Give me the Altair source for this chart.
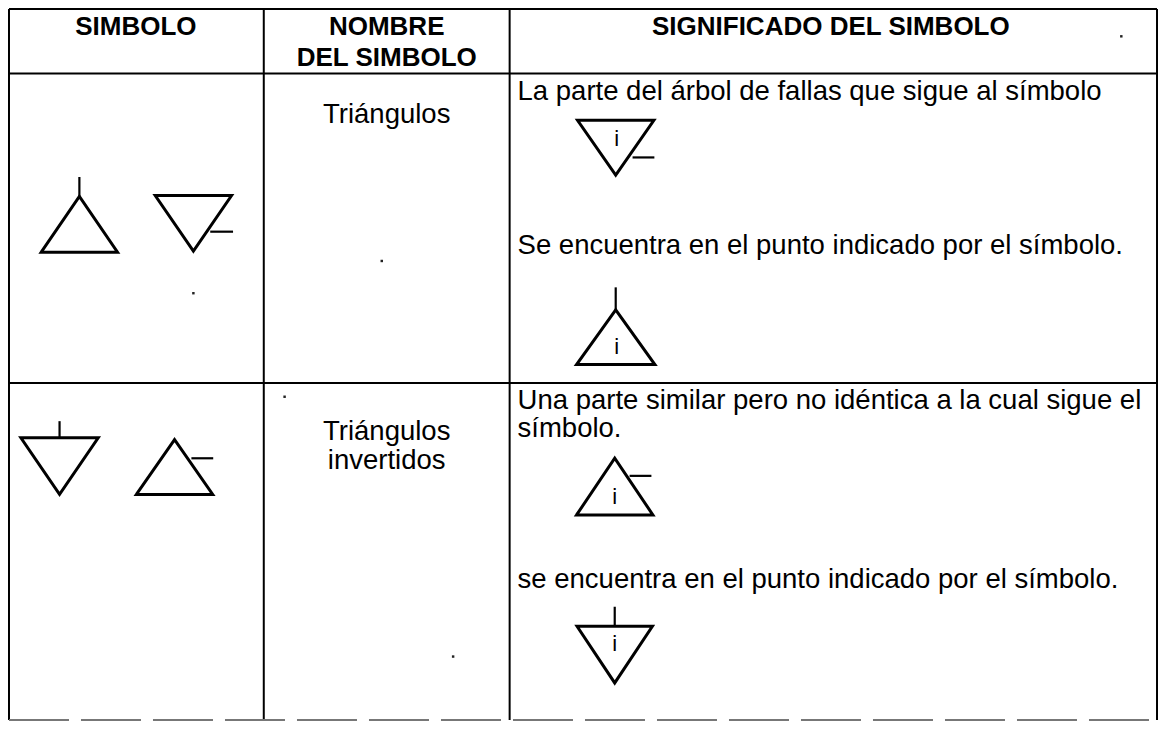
import altair as alt
import pandas as pd

# ---- table frame (reference pixel coordinates) ----
col_edges = [7, 264, 512, 1165]
row_edges = [5, 71, 388, 733]

# ---- header texts ----
header_text = ["SIMBOLO", "NOMBRE", "DEL SIMBOLO", "SIGNIFICADO DEL SIMBOLO"]
header_x = [135, 388, 388, 836]
header_y = [32, 32, 63, 32]

# ---- symbol names ----
name_text = ["Triángulos", "Triángulos", "invertidos"]
name_x = [388, 388, 388]
name_y = [122, 446, 476]

# ---- meaning texts (one entry per paragraph, lines split by "\n") ----
desc_text = [
    "La parte del árbol de fallas que sigue al símbolo",
    "Se encuentra en el punto indicado por el símbolo.",
    "Una parte similar pero no idéntica a la cual sigue el\nsímbolo.",
    "se encuentra en el punto indicado por el símbolo.",
]
desc_x = [520, 520, 520, 520]
desc_y = [98, 256, 415, 598]

# ---- triangles: centre x, flat side y, apex y, half width ----
tri_cx = [78, 193, 58, 174, 619, 619, 618, 618]
tri_base = [254, 196, 444, 502, 119, 369, 523, 637]
tri_apex = [197, 253, 502, 446, 175, 313, 465, 695]
tri_half = [38.5, 38.5, 39, 38.5, 38.5, 39.5, 38.5, 38]

# ---- "i" labels inside triangles ----
lab_x = [620, 620, 618, 618]
lab_y = [145, 358, 512, 662]
lab_text = ["i", "i", "i", "i"]

# ---- vertical stems: x, y top, y bottom ----
stem_x = [78, 58, 619, 618]
stem_y1 = [177, 427, 290, 617]
stem_y2 = [197, 444, 313, 637]

# ---- side dashes: y, x start, x end ----
dash_y = [233, 465, 157, 483]
dash_x1 = [210, 191, 636, 633]
dash_x2 = [233, 213, 658, 655]

# ---- scan specks ----
speck_x = [193, 383, 285, 455, 1129]
speck_y = [296, 263, 402, 668, 33]

# ---------------------------------------------------------------
W, H = 1150, 714
xs = alt.Scale(domain=[6, 1166], nice=False, zero=False)
ys = alt.Scale(domain=[4, 735], nice=False, zero=False, reverse=True)


def XY(xf="x", yf="y"):
    return dict(
        x=alt.X(f"{xf}:Q", scale=xs, axis=None),
        y=alt.Y(f"{yf}:Q", scale=ys, axis=None),
    )


grid_rows = []
for cx in col_edges:
    grid_rows.append(dict(x=cx, y=row_edges[0], x2=cx, y2=row_edges[-1]))
for ry in row_edges[:-1]:
    grid_rows.append(dict(x=col_edges[0], y=ry, x2=col_edges[-1], y2=ry))
grid_df = pd.DataFrame(grid_rows)
bottom_df = pd.DataFrame(
    [dict(x=col_edges[0], y=row_edges[-1], x2=col_edges[-1], y2=row_edges[-1])]
)

grid = alt.Chart(grid_df).mark_rule(color="black", strokeWidth=2).encode(
    **XY(), x2="x2:Q", y2="y2:Q"
)
bottom = alt.Chart(bottom_df).mark_rule(
    color="#777777", strokeWidth=2, strokeDash=[60, 12]
).encode(**XY(), x2="x2:Q", y2="y2:Q")

tri_rows = []
for i, (cx, b, a, h) in enumerate(zip(tri_cx, tri_base, tri_apex, tri_half)):
    if a < b:
        verts = [(cx, a), (cx - h, b), (cx + h, b)]
    else:
        verts = [(cx - h, b), (cx + h, b), (cx, a)]
    verts = verts + verts[:2]
    for k, (vx, vy) in enumerate(verts):
        tri_rows.append(dict(tri=i, k=k, x=vx, y=vy))
tri_df = pd.DataFrame(tri_rows)
tris = alt.Chart(tri_df).mark_line(
    color="black", strokeWidth=3, strokeJoin="miter"
).encode(**XY(), detail="tri:N", order="k:Q")

stem_df = pd.DataFrame(dict(x=stem_x, y=stem_y1, y2=stem_y2))
stems = alt.Chart(stem_df).mark_rule(color="black", strokeWidth=2.2).encode(
    **XY(), y2="y2:Q"
)
dash_df = pd.DataFrame(dict(x=dash_x1, x2=dash_x2, y=dash_y))
dashes = alt.Chart(dash_df).mark_rule(color="black", strokeWidth=2.2).encode(
    **XY(), x2="x2:Q"
)

FONT = "Liberation Sans"
head_df = pd.DataFrame(dict(x=header_x, y=header_y, t=header_text))
heads = alt.Chart(head_df).mark_text(
    font=FONT, fontSize=26, fontWeight="bold", align="center",
    baseline="alphabetic", color="black"
).encode(**XY(), text="t:N")

name_df = pd.DataFrame(dict(x=name_x, y=name_y, t=name_text))
names = alt.Chart(name_df).mark_text(
    font=FONT, fontSize=27.5, align="center", baseline="alphabetic", color="black"
).encode(**XY(), text="t:N")

desc_df = pd.DataFrame(dict(x=desc_x, y=desc_y, t=desc_text))
descs = alt.Chart(desc_df).mark_text(
    font=FONT, fontSize=27.5, align="left", baseline="alphabetic", color="black",
    lineBreak="\n", lineHeight=28
).encode(**XY(), text="t:N")

lab_df = pd.DataFrame(dict(x=lab_x, y=lab_y, t=lab_text))
labs = alt.Chart(lab_df).mark_text(
    font=FONT, fontSize=22, align="center", baseline="alphabetic", color="black"
).encode(**XY(), text="t:N")

speck_df = pd.DataFrame(dict(x=speck_x, y=speck_y))
specks = alt.Chart(speck_df).mark_point(
    shape="square", size=6, filled=True, color="#222222", opacity=1
).encode(**XY())

chart = alt.layer(
    grid, bottom, tris, stems, dashes, heads, names, descs, labs, specks
).properties(
    width=W, height=H, padding=0, background="white",
    autosize=alt.AutoSizeParams(type="none"),
).configure_view(strokeWidth=0)

chart.save("out.html", embed_options={"renderer": "svg", "actions": False})
